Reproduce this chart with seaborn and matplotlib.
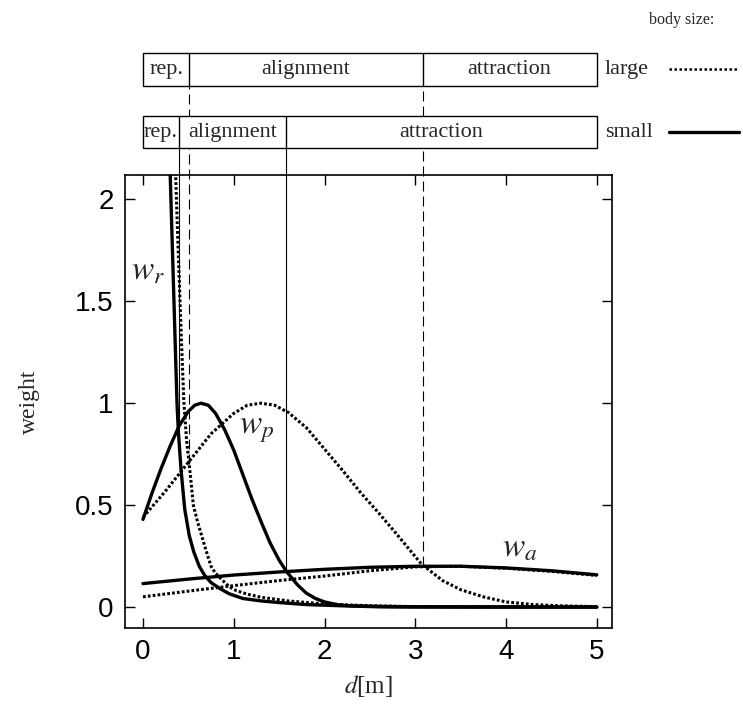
import numpy as np
import pandas as pd
import matplotlib
matplotlib.use("Agg")
import matplotlib.pyplot as plt
from matplotlib.patches import Rectangle
import seaborn as sns

# --- data ---
# small body size (solid lines)
small_wr_x = [0.28, 0.30, 0.32, 0.34, 0.36, 0.375, 0.39, 0.42, 0.46, 0.51, 0.56, 0.62, 0.68,
              0.75, 0.85, 0.95, 1.1, 1.3, 1.5, 1.8, 2.2, 2.8, 3.5, 5.0]
small_wr_y = [2.30, 2.12, 1.82, 1.52, 1.22, 1.00, 0.86, 0.67, 0.48, 0.35, 0.27, 0.20, 0.155,
              0.12, 0.09, 0.065, 0.042, 0.030, 0.022, 0.012, 0.006, 0.002, 0.0005, 0.0]

small_wp_x = [0.0, 0.1, 0.2, 0.3, 0.4, 0.5, 0.57, 0.64, 0.72, 0.8, 0.9, 1.0, 1.1, 1.2, 1.3,
              1.4, 1.5, 1.58, 1.7, 1.8, 1.9, 2.0, 2.15, 2.3, 2.6, 3.0, 4.0, 5.0]
small_wp_y = [0.43, 0.56, 0.68, 0.79, 0.89, 0.96, 0.99, 1.00, 0.99, 0.95, 0.87, 0.77, 0.65,
              0.53, 0.42, 0.315, 0.23, 0.175, 0.11, 0.068, 0.042, 0.025, 0.011, 0.005, 0.001,
              0.0, 0.0, 0.0]

small_wa_x = [0.0, 0.5, 1.0, 1.5, 2.0, 2.5, 3.0, 3.5, 4.0, 4.5, 5.0]
small_wa_y = [0.115, 0.137, 0.157, 0.172, 0.185, 0.195, 0.200, 0.200, 0.192, 0.178, 0.158]

# large body size (dotted lines)
large_wr_x = [0.35, 0.36, 0.38, 0.40, 0.42, 0.45, 0.48, 0.51, 0.555, 0.60, 0.64, 0.70, 0.75,
              0.80, 0.88, 0.95, 1.03, 1.15, 1.3, 1.6, 2.0, 2.5, 3.0, 4.0, 5.0]
large_wr_y = [2.30, 2.12, 1.85, 1.60, 1.35, 1.01, 0.82, 0.70, 0.50, 0.42, 0.36, 0.27, 0.20,
              0.165, 0.13, 0.10, 0.08, 0.063, 0.048, 0.030, 0.015, 0.006, 0.002, 0.0005, 0.0]

large_wp_x = [0.0, 0.25, 0.5, 0.75, 1.0, 1.15, 1.3, 1.45, 1.6, 1.8, 2.0, 2.2, 2.4, 2.6, 2.8,
              3.07, 3.3, 3.5, 3.75, 4.0, 4.3, 4.6, 5.0]
large_wp_y = [0.44, 0.57, 0.71, 0.85, 0.95, 0.99, 1.00, 0.99, 0.955, 0.88, 0.775, 0.67, 0.56,
              0.46, 0.355, 0.21, 0.13, 0.085, 0.05, 0.025, 0.012, 0.006, 0.002]

large_wa_x = [0.0, 0.5, 1.0, 1.5, 2.0, 2.5, 3.0, 3.5, 4.0, 4.5, 5.0]
large_wa_y = [0.05, 0.078, 0.105, 0.13, 0.152, 0.178, 0.197, 0.200, 0.190, 0.175, 0.155]

# zone boundaries and the weight where each boundary line stops
large_bounds = [0.51, 3.08]
large_bound_w = [0.70, 0.20]
small_bounds = [0.395, 1.58]
small_bound_w = [0.88, 0.175]
zone_names = ["rep.", "alignment", "attraction"]

curve_labels = [r"$w_r$", r"$w_p$", r"$w_a$"]
label_x = [0.05, 1.25, 4.15]
label_y = [1.65, 0.87, 0.29]

# --- figure ---
sns.set_style("ticks")
plt.rcParams["mathtext.fontset"] = "stix"
plt.rcParams["font.family"] = ["Liberation Sans", "DejaVu Sans"]

fig = plt.figure(figsize=(7.43, 7.11), dpi=100)
ax = fig.add_axes([0.168, 0.1167, 0.656, 0.6373])

dotted = (0, (0.9, 0.7))
for xs, ys in [(small_wr_x, small_wr_y), (small_wp_x, small_wp_y), (small_wa_x, small_wa_y)]:
    sns.lineplot(x=xs, y=ys, ax=ax, color="black", lw=2.4, sort=False, estimator=None)
for xs, ys in [(large_wr_x, large_wr_y), (large_wp_x, large_wp_y), (large_wa_x, large_wa_y)]:
    sns.lineplot(x=xs, y=ys, ax=ax, color="black", lw=2.2, linestyle=dotted,
                 sort=False, estimator=None)

ax.set_xlim(-0.2, 5.17)
ax.set_ylim(-0.103, 2.12)
ax.set_xticks([0, 1, 2, 3, 4, 5])
ax.set_yticks([0, 0.5, 1, 1.5, 2])
ax.set_yticklabels(["0", "0.5", "1", "1.5", "2"])
ax.tick_params(direction="in", length=7, width=1, top=True, right=True,
               labelsize=20, pad=8, colors="black")
for s in ax.spines.values():
    s.set_linewidth(1.2)
    s.set_color("black")

ax.set_xlabel(r"$d$[m]", family="Liberation Serif", fontsize=18, labelpad=6)
ax.set_ylabel("weight", family="Liberation Serif", fontsize=17, labelpad=25)

for txt, lx, ly in zip(curve_labels, label_x, label_y):
    ax.text(lx, ly, txt, fontsize=24, ha="center", va="center")

# --- zone boxes above the axes ---
serif = "Liberation Serif"
large_box = (2.555, 2.72)
small_box = (2.25, 2.41)

# boundary lines down to the curves
ax.vlines(large_bounds, large_bound_w, [large_box[0]] * 2, color="black", lw=0.8,
          linestyle=(0, (9, 4.5)), clip_on=False, zorder=1)
ax.vlines(small_bounds, small_bound_w, [small_box[0]] * 2, color="black", lw=0.8,
          clip_on=False, zorder=1)

for (y0, y1), bounds in [(large_box, large_bounds), (small_box, small_bounds)]:
    ax.add_patch(Rectangle((0, y0), 5, y1 - y0, facecolor="white", edgecolor="black",
                           lw=1.0, clip_on=False, zorder=5))
    ax.vlines(bounds, y0, y1, color="black", lw=1.0, clip_on=False, zorder=6)
    edges = [0] + bounds + [5]
    for i, name in enumerate(zone_names):
        ax.text((edges[i] + edges[i + 1]) / 2, (y0 + y1) / 2, name, family=serif,
                fontsize=16, ha="center", va="center", zorder=7, clip_on=False)

# body size key
ax.text(5.09, sum(large_box) / 2, "large", family=serif, fontsize=16, va="center")
ax.text(5.09, sum(small_box) / 2, "small", family=serif, fontsize=16, va="center")
ax.plot([5.79, 6.57], [sum(large_box) / 2] * 2, color="black", lw=1.8,
        linestyle=(0, (1, 1)), clip_on=False)
ax.plot([5.79, 6.57], [sum(small_box) / 2] * 2, color="black", lw=2.4, clip_on=False)
ax.text(5.93, 2.88, "body size:", family=serif, fontsize=11.5, ha="center", va="center")

fig.savefig("out.png", dpi=100)
